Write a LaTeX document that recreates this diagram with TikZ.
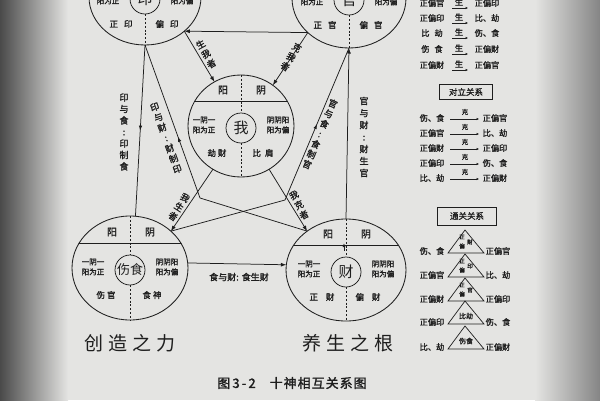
\documentclass[tikz,border=0pt]{standalone}
\usepackage{fontspec}
\setmainfont{Noto Sans CJK SC}[AutoFakeBold=1.6]
\usetikzlibrary{shapes.geometric,arrows.meta,decorations.markings,calc}
\definecolor{ink}{HTML}{1E1E1E}
\definecolor{paper}{HTML}{E4E4E2}
\definecolor{edgeL}{HTML}{4A4A4A}
\definecolor{edgeR}{HTML}{858585}
% #1 name #2 cx #3 cy #4 width #5 height #6 inner #7 bottom-left #8 bottom-right
\newcommand\tengod[8]{%
  \node[outer, minimum width=#4pt, minimum height=#5pt] (#1) at (#2,#3) {};
  \node[innerc] (#1c) at (#2,#3+2) {#6};
  \begin{scope}
    \clip (#2,#3) ellipse [x radius=#4/2, y radius=#5/2];
    \draw[ln] (#2-80,#3-25) -- (#2+80,#3-25);
  \end{scope}
  \node[yy] (#1yang) at (#2-18,#3-36) {阳};
  \node[yy] (#1yin) at (#2+20,#3-36) {阴};
  \node[sm] (#1l) at (#2-37,#3-1) {一阴一\\阳为正};
  \node[sm] (#1r) at (#2+37,#3-1) {阴阴阳\\阳为偏};
  \node[bt] (#1bl) at (#2-24,#3+27) {#7};
  \node[bt] (#1br) at (#2+22,#3+27) {#8};
  \draw[dsh] (#1c.north |- #1.north) -- (#1c.north);
  \draw[dsh] (#1c.south) -- (#1c.south |- #1.south);
}
\begin{document}
\begin{tikzpicture}[x=1pt,y=-1pt,
  ln/.style={draw=ink,line width=0.75pt},
  arr/.style={ln,-{Latex[length=5.5pt,width=4pt]}},
  midarr/.style={postaction={decorate},decoration={markings,mark=at position #1 with {\arrow{Latex[length=5pt,width=3.5pt]}}}},
  outer/.style={ellipse,draw=ink,line width=0.85pt,inner sep=0pt,outer sep=0pt},
  innerc/.style={circle,draw=ink,line width=0.75pt,inner sep=0pt,minimum size=30pt,text=ink,font=\fontsize{15}{15}\selectfont},
  yy/.style={inner sep=0pt,text=ink,font=\fontsize{10}{10}\selectfont\bfseries},
  sm/.style={inner sep=0pt,text=ink,align=center,font=\fontsize{7.5}{10}\selectfont\bfseries},
  bt/.style={inner sep=0pt,text=ink,font=\fontsize{8.5}{9}\selectfont\bfseries},
  lbl/.style={inner sep=0pt,text=ink,align=center,font=\fontsize{9}{11}\selectfont\bfseries},
  rt/.style={inner sep=0pt,text=ink,font=\fontsize{8.2}{9}\selectfont\bfseries},
  tiny/.style={inner sep=0pt,text=ink,font=\fontsize{5.5}{6}\selectfont\bfseries},
  dsh/.style={draw=ink,line width=0.6pt,dash pattern=on 2pt off 1.8pt},
  big/.style={inner sep=0pt,text=ink,font=\fontsize{19}{19}\selectfont},
  boxlbl/.style={draw=ink,line width=0.8pt,inner sep=0pt,text=ink,font=\fontsize{8.5}{9}\selectfont\bfseries},
]
\useasboundingbox (0,0) rectangle (600,400);
% background photo
\fill[paper] (0,0) rectangle (600,400);
\shade[left color=edgeL, right color=paper] (0,0) rectangle (68,400);
\shade[left color=paper, right color=edgeR] (535,0) rectangle (600,400);

% the five circles
\tengod{yin}{145}{-3}{112}{96}{印}{正\hspace{6pt}印}{偏\hspace{6pt}印}
\tengod{guan}{349}{-2}{114}{100}{官}{正\hspace{6pt}官}{偏\hspace{6pt}官}
\tengod{wo}{241}{126}{106}{102}{我}{劫\hspace{2pt}财}{比\hspace{4pt}肩}
\tengod{shang}{130}{268}{116}{104}{\fontsize{13}{13}\selectfont 伤食}{伤\hspace{2pt}官}{食\hspace{2pt}神}
\tengod{cai}{346}{270}{120}{102}{财}{正\hspace{8pt}财}{偏\hspace{8pt}财}

\coordinate (caiArrS) at (344,251);
\coordinate (caiArrE) at (344,243);
\draw[ln,-{Latex[length=4pt,width=3pt]}] (caiArrS) -- (caiArrE);

% connectors
\coordinate (k1) at (200,198);
\coordinate (k2) at (285,200);
\draw[arr] (guan.220) -- (yin.-41);
\draw[arr] (yin.-41) -- (wo.121);
\draw[arr] (guan.220) -- (wo.52);
\draw[ln,midarr=0.5] (yin.south) -- (shang.84);
\draw[ln,midarr=0.4] (k1) -- (yin.south);
\draw[ln] (k1) -- (cai.135);
\draw[ln,midarr=0.5] (k2) -- (guan.south);
\draw[ln] (k2) -- (shang.42);
\draw[arr] (cai.north) -- (guan.south);
\draw[arr] (wo.-123) -- (shang.42);
\draw[arr] (wo.-57) -- (cai.135);
\draw[arr] (shang.5) -- (cai.175);

% connector labels
\node[lbl,font=\fontsize{9}{11.5}\selectfont\bfseries] (lYS) at (124,132) {印\\与\\食\\:\\印\\制\\食};
\node[lbl,rotate=20] (lYC) at (166,138) {印\\与\\财\\:\\财\\制\\印};
\node[lbl,rotate=-23] (lGS) at (320,134) {官\\与\\食\\:\\食\\制\\官};
\node[lbl,font=\fontsize{9}{12}\selectfont\bfseries] (lGC) at (364,137) {官\\与\\财\\:\\财\\生\\官};
\node[lbl,rotate=29] (lSW) at (206,54) {生\\我\\者};
\node[lbl,rotate=-32] (lKW) at (291,57) {克\\我\\者};
\node[lbl,rotate=-33] (lWS) at (179,207) {我\\生\\者};
\node[lbl,rotate=27] (lWK) at (299,205) {我\\克\\者};
\node[lbl] (lSC) at (239,277) {食与财:\hspace{3pt}食生财};

% big captions
\node[big] (cz) at (130,343) {创\hspace{5pt}造\hspace{5pt}之\hspace{5pt}力};
\node[big] (ys) at (348,343) {养\hspace{5pt}生\hspace{5pt}之\hspace{5pt}根};
\node[inner sep=0pt,text=ink,font=\fontsize{13}{13}\selectfont\bfseries] (cap) at (292,383) {图\,3\,-\,2\hspace{14pt}十\hspace{1pt}神\hspace{1pt}相\hspace{1pt}互\hspace{1pt}关\hspace{1pt}系\hspace{1pt}图};

% right panel: generating
\foreach \yy/\a/\b [count=\i] in {3/正偏官/正偏印, 18/正偏印/比、劫, 33/比\hspace{5pt}劫/伤、食, 49/伤\hspace{5pt}食/正偏财, 65/正偏财/正偏官}{
  \node[rt] (sa\i) at (432,\yy) {\a};
  \node[rt] (ss\i) at (459,\yy-1) {生};
  \coordinate (sua\i) at (452,\yy+5);
  \coordinate (sub\i) at (468,\yy+5);
  \draw[ln,line width=0.6pt,-{Latex[length=2.5pt,width=2.5pt]}] (sua\i) -- (sub\i);
  \node[rt] (sb\i) at (487,\yy) {\b};
}
\node[boxlbl,minimum width=53pt,minimum height=15pt] (box1) at (466,92) {对立关系};
\foreach \yy/\a/\b [count=\i] in {118/伤、食/正偏官, 133/正偏官/比、劫, 148/正偏财/正偏印, 163/正偏印/伤、食, 178/比、劫/正偏财}{
  \node[rt] (da\i) at (432,\yy) {\a};
  \node[tiny,font=\fontsize{6.5}{7}\selectfont\bfseries] (dk\i) at (465,\yy-6) {克};
  \coordinate (dua\i) at (450,\yy+1);
  \coordinate (dub\i) at (479,\yy+1);
  \draw[ln,line width=0.6pt,-{Latex[length=2.5pt,width=2.5pt]}] (dua\i) -- (dub\i);
  \node[rt] (db\i) at (495,\yy) {\b};
}
\node[boxlbl,minimum width=59pt,minimum height=18pt] (box2) at (467,216) {通关关系};
\foreach \yy/\a/\b [count=\i] in {251/伤、食/正偏官, 275/正偏官/比、劫, 299/正偏财/正偏印, 322/正偏印/伤、食, 347/比、劫/正偏财}{
  \node[rt] (ta\i) at (432,\yy) {\a};
  \coordinate (tl\i) at (448,\yy+2);
  \coordinate (tt\i) at (465,\yy-21);
  \coordinate (tr\i) at (484,\yy+2);
  \draw[ln,line width=0.7pt] (tl\i) -- (tt\i) -- (tr\i) -- cycle;
  \node[rt] (tb\i) at (498,\yy) {\b};
}
\node[tiny] (m1a) at (462,237) {正};
\node[tiny] (m1b) at (462,246) {偏};
\node[tiny] (m1c) at (470,242) {财};
\node[tiny] (m2a) at (462,261) {正};
\node[tiny] (m2b) at (462,270) {偏};
\node[tiny] (m2c) at (470,266) {印};
\node[tiny] (m3a) at (462,285) {正};
\node[tiny] (m3b) at (462,294) {偏};
\node[tiny] (m3c) at (470,290) {官};
\node[tiny,font=\fontsize{7}{7}\selectfont\bfseries] (m4) at (466,316) {比劫};
\node[tiny,font=\fontsize{7}{7}\selectfont\bfseries] (m5) at (466,341) {伤食};
\end{tikzpicture}
\end{document}
